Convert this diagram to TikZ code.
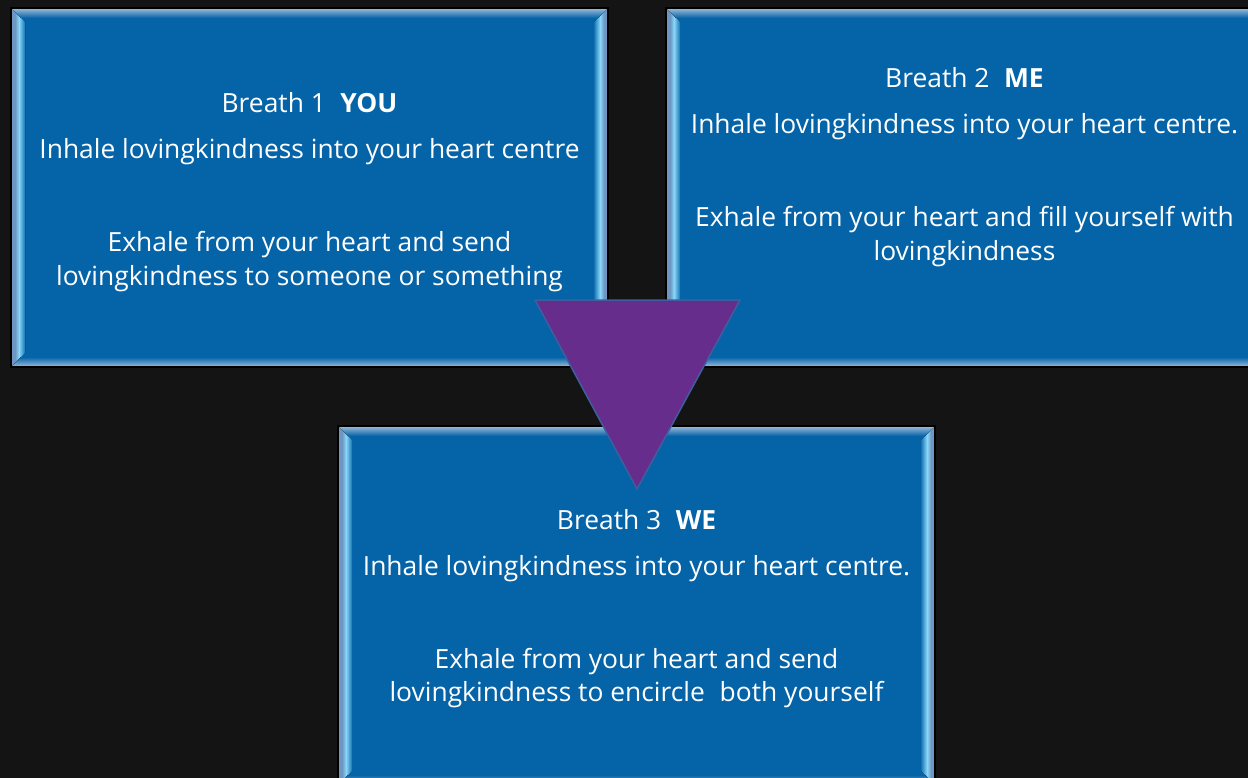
\documentclass[tikz,border=0pt]{standalone}
\usepackage{fontspec}
\setmainfont{Open Sans}
\usetikzlibrary{calc}
\definecolor{bgc}{HTML}{141414}
\definecolor{boxc}{HTML}{0563A8}
\definecolor{bevA}{RGB}{110,150,195}
\definecolor{bevB}{RGB}{135,215,248}
\definecolor{bevT}{RGB}{160,190,220}
\definecolor{trifill}{HTML}{662D8C}
\definecolor{triline}{HTML}{3F5E9E}
\newcommand\bevbox[1]{%
  \begin{scope}
    \clip (#1.north west) -- ($(#1.north west)+(14,14)$) -- ($(#1.south west)+(14,-14)$) -- (#1.south west) -- cycle;
    \fill[bevA] (#1.north west) rectangle ($(#1.south west)+(4,0)$);
    \fill[left color=bevA,right color=bevB] ($(#1.north west)+(4,0)$) rectangle ($(#1.south west)+(8,0)$);
    \fill[left color=bevB,right color=boxc] ($(#1.north west)+(8,0)$) rectangle ($(#1.south west)+(15,0)$);
  \end{scope}
  \begin{scope}
    \clip (#1.north east) -- ($(#1.north east)+(-14,14)$) -- ($(#1.south east)+(-14,-14)$) -- (#1.south east) -- cycle;
    \fill[bevA] (#1.north east) rectangle ($(#1.south east)+(-4,0)$);
    \fill[right color=bevA,left color=bevB] ($(#1.north east)+(-4,0)$) rectangle ($(#1.south east)+(-8,0)$);
    \fill[right color=bevB,left color=boxc] ($(#1.north east)+(-8,0)$) rectangle ($(#1.south east)+(-15,0)$);
  \end{scope}
  \begin{scope}
    \clip (#1.north west) -- (#1.north east) -- ($(#1.north east)+(-14,14)$) -- ($(#1.north west)+(14,14)$) -- cycle;
    \fill[top color=bevT,bottom color=boxc] (#1.north west) rectangle ($(#1.north east)+(0,10)$);
  \end{scope}
  \begin{scope}
    \clip (#1.south west) -- (#1.south east) -- ($(#1.south east)+(-14,-14)$) -- ($(#1.south west)+(14,-14)$) -- cycle;
    \fill[bottom color=bevT,top color=boxc] ($(#1.south west)+(0,-10)$) rectangle (#1.south east);
  \end{scope}
  \draw[black,line width=1.5pt] (#1.north west) rectangle (#1.south east);
}
\begin{document}
\begin{tikzpicture}[x=1pt,y=-1pt,
  panel/.style={rectangle,fill=boxc,minimum width=597pt,minimum height=359pt,inner sep=0pt,outer sep=0pt,anchor=north west},
  txt/.style={text=white,anchor=base,inner sep=0pt,font=\fontsize{26.4}{31}\selectfont}]
\fill[bgc] (0,0) rectangle (1248,778);
\useasboundingbox (0,0) rectangle (1248,778);
\node[panel] (b1) at (11,8) {};
\bevbox{b1}
\node[panel] (b2) at (666,8) {};
\bevbox{b2}
\node[panel] (b3) at (338,426) {};
\bevbox{b3}
% box 1 text
\node[txt] (t1a) at (309.5,113) {Breath 1\hspace{0.55em}\textbf{YOU}};
\node[txt] (t1b) at (309.5,159) {Inhale lovingkindness into your heart centre};
\node[txt] (t1c) at (309.5,252) {Exhale from your heart and send};
\node[txt] (t1d) at (309.5,285) {lovingkindness to someone or something};
% box 2 text
\node[txt] (t2a) at (964.5,88) {Breath 2\hspace{0.55em}\textbf{ME}};
\node[txt] (t2b) at (964.5,134) {Inhale lovingkindness into your heart centre.};
\node[txt] (t2c) at (964.5,227) {Exhale from your heart and fill yourself with};
\node[txt] (t2d) at (964.5,261) {lovingkindness};
% box 3 text
\node[txt] (t3a) at (636.5,529) {Breath 3\hspace{0.55em}\textbf{WE}};
\node[txt] (t3b) at (636.5,575) {Inhale lovingkindness into your heart centre.};
\node[txt] (t3c) at (636.5,668) {Exhale from your heart and send};
\node[txt] (t3d) at (636.5,701) {lovingkindness to encircle\hspace{0.3em} both yourself};
% triangle
\coordinate (triL) at (535,300);
\coordinate (triR) at (740,300);
\coordinate (triB) at (637,489);
\draw[fill=trifill,draw=triline,line width=1.5pt,line join=miter] (triL) -- (triR) -- (triB) -- cycle;
\end{tikzpicture}
\end{document}
